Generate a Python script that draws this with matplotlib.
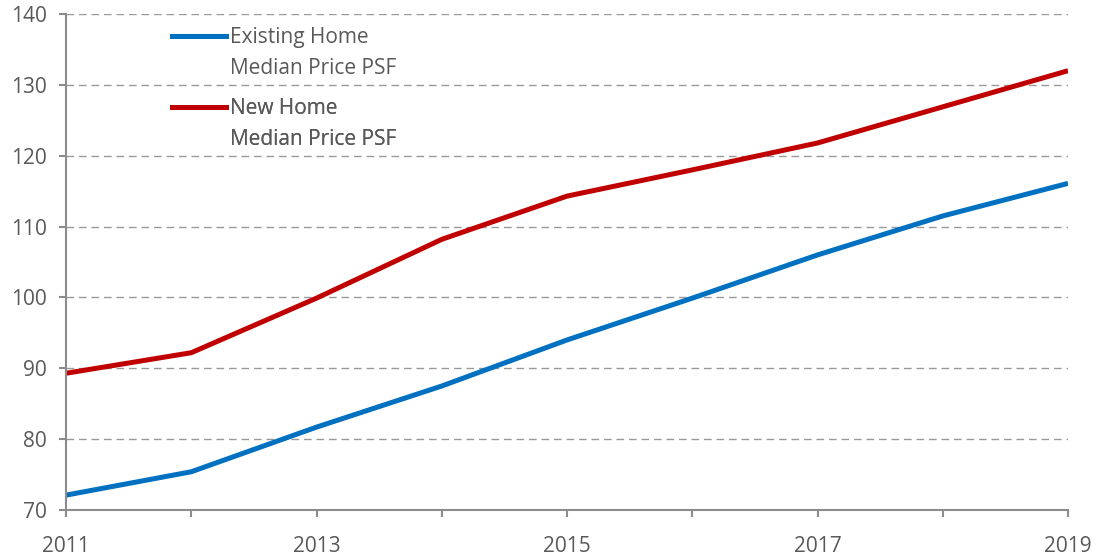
import matplotlib.pyplot as plt
from matplotlib.lines import Line2D
from matplotlib.ticker import FixedLocator, FuncFormatter

years = [2011, 2012, 2013, 2014, 2015, 2016, 2017, 2018, 2019]
existing_psf = [72.1, 75.4, 81.7, 87.5, 94.0, 99.9, 106.0, 111.5, 116.1]
new_psf = [89.3, 92.2, 99.9, 108.2, 114.3, 118.0, 121.8, 126.9, 132.0]

BLUE = '#0070C0'
RED = '#C00000'
TXT = '#595959'
AXC = '#8c8c8c'
FS = 15

plt.rcParams['font.family'] = ['Open Sans', 'DejaVu Sans']

fig = plt.figure(figsize=(10.97, 5.56), dpi=100)
ax = fig.add_axes([0.0602, 0.0827, 0.9134, 0.8921])

ax.plot(years, existing_psf, color=BLUE, lw=3.6, solid_capstyle='butt')
ax.plot(years, new_psf, color=RED, lw=3.6, solid_capstyle='butt')

ax.set_xlim(2011, 2019)
ax.set_ylim(70, 140)
ax.set_yticks(range(70, 141, 10))
ax.xaxis.set_major_locator(FixedLocator(years))
ax.xaxis.set_major_formatter(FuncFormatter(lambda v, p: str(int(v)) if int(v) % 2 == 1 else ''))

for y in range(80, 141, 10):
    ax.axhline(y, color='#999999', lw=1.0, ls=(0, (5.5, 3.5)), zorder=0)

for s in ['top', 'right']:
    ax.spines[s].set_visible(False)
for s in ['left', 'bottom']:
    ax.spines[s].set_color(AXC)
    ax.spines[s].set_linewidth(1.5)
ax.tick_params(colors=AXC, width=1.5, length=5, labelcolor=TXT, labelsize=FS)
ax.tick_params(axis='x', pad=14)
ax.tick_params(axis='y', pad=9)

# legend: two blocks, handle aligned with the first text line
def legend_block(color, first, second, ypos):
    h = [Line2D([], [], color=color, lw=3.6), Line2D([], [], color='none')]
    lg = ax.legend(h, [first, second], loc='upper left', bbox_to_anchor=(0.106, ypos),
                   frameon=False, handlelength=2.6, handletextpad=0.15,
                   labelspacing=0.46, fontsize=FS, labelcolor=TXT,
                   borderaxespad=0, borderpad=0)
    ax.add_artist(lg)

legend_block(BLUE, 'Existing Home', 'Median Price PSF', 0.973)
legend_block(RED, 'New Home', 'Median Price PSF', 0.830)

fig.savefig('out.png', dpi=100)
